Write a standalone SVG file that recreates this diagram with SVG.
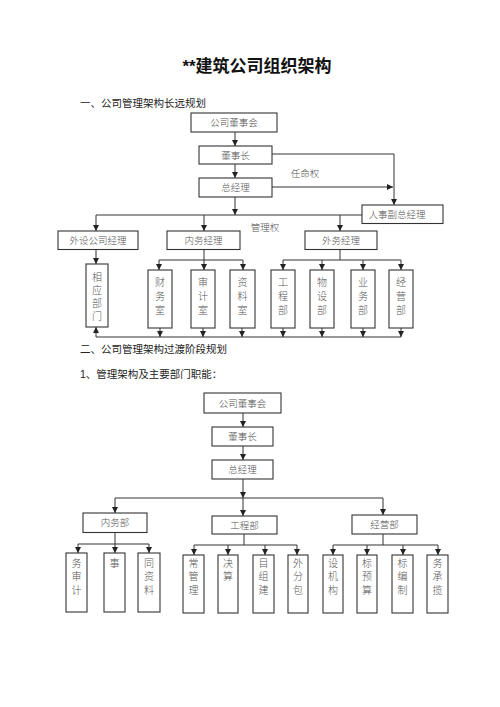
<svg xmlns="http://www.w3.org/2000/svg" width="500" height="707" viewBox="0 0 500 707">
<defs>
<style>
.bg{fill:#ffffff}
.box{fill:#ffffff;stroke:#333333;stroke-width:1.1}
.t{font-family:"Liberation Serif","Noto Sans CJK SC",serif;font-size:9.5px;font-weight:300;fill:#555555;text-anchor:middle}
.v{font-family:"Liberation Serif","Noto Sans CJK SC",serif;font-size:10px;font-weight:300;fill:#555555;text-anchor:middle}
.h{font-family:"Liberation Sans","Noto Sans CJK SC",sans-serif;font-size:10.5px;fill:#222222}
.title{font-family:"Liberation Sans","Noto Sans CJK SC",sans-serif;font-size:17px;font-weight:bold;fill:#111111;text-anchor:middle}
.c{fill:none;stroke:#333333;stroke-width:1}
.a{fill:none;stroke:#333333;stroke-width:1;marker-end:url(#arr)}
</style>
<marker id="arr" viewBox="0 0 6 6" refX="6" refY="3" markerWidth="6" markerHeight="6" markerUnits="userSpaceOnUse" orient="auto">
<path d="M0,0 L6,3 L0,6 Z" fill="#222222"/>
</marker>
</defs>
<rect class="bg" x="0" y="0" width="500" height="707"/>

<text class="title" x="257" y="72">**建筑公司组织架构</text>
<text class="h" x="80" y="107">一、公司管理架构长远规划</text>
<text class="h" x="80" y="353">二、公司管理架构过渡阶段规划</text>
<text class="h" x="80" y="378">1、管理架构及主要部门职能：</text>

<g id="connectors">
<!-- top section -->
<path class="a" d="M235,132 V146"/>
<path class="a" d="M272,154 H394 V205"/>
<path class="a" d="M235,164 V178"/>
<path class="a" d="M272,187 H393"/>
<path class="a" d="M235,197 V215"/>
<path class="c" d="M96,215 H362"/>
<path class="a" d="M96,215 V231"/>
<path class="a" d="M204,215 V231"/>
<path class="a" d="M340,215 V231"/>
<path class="a" d="M96,249 V264"/>
<path class="c" d="M204,249 V260 M159,260 H243"/>
<path class="a" d="M159,260 V270"/>
<path class="a" d="M204,260 V270"/>
<path class="a" d="M243,260 V270"/>
<path class="c" d="M340,249 V260 M283,260 H401"/>
<path class="a" d="M283,260 V270"/>
<path class="a" d="M322,260 V270"/>
<path class="a" d="M363,260 V270"/>
<path class="a" d="M401,260 V270"/>
<path class="a" d="M160,328 V337"/>
<path class="a" d="M203,328 V337"/>
<path class="a" d="M242,328 V337"/>
<path class="a" d="M283,328 V337"/>
<path class="a" d="M322,328 V337"/>
<path class="a" d="M363,328 V337"/>
<path class="a" d="M401,328 V337"/>
<path class="c" d="M96,337 H401"/>
<path class="a" d="M96,337 V327"/>
<!-- bottom section -->
<path class="a" d="M243,413 V427"/>
<path class="a" d="M243,446 V460"/>
<path class="a" d="M243,479 V498"/>
<path class="c" d="M115,498 H383"/>
<path class="a" d="M115,498 V513"/>
<path class="a" d="M243,498 V516"/>
<path class="a" d="M383,498 V515"/>
<path class="c" d="M115,532 V544 M78,544 H149"/>
<path class="a" d="M78,544 V553"/>
<path class="a" d="M115,544 V553"/>
<path class="a" d="M149,544 V553"/>
<path class="c" d="M244,534 V545 M194,545 H297"/>
<path class="a" d="M194,545 V555"/>
<path class="a" d="M228,545 V555"/>
<path class="a" d="M265,545 V555"/>
<path class="a" d="M297,545 V555"/>
<path class="c" d="M383,534 V545 M333,545 H438"/>
<path class="a" d="M333,545 V555"/>
<path class="a" d="M367,545 V555"/>
<path class="a" d="M403,545 V555"/>
<path class="a" d="M438,545 V555"/>
</g>

<text class="t" x="305" y="177">任命权</text>
<text class="t" x="265" y="231">管理权</text>

<!-- top nodes -->
<g id="n-board1"><rect class="box" x="191" y="113" width="86" height="19"/><text class="t" x="234" y="126">公司董事会</text></g>
<g id="n-chair1"><rect class="box" x="199" y="146" width="73" height="18"/><text class="t" x="235.5" y="158.5">董事长</text></g>
<g id="n-gm1"><rect class="box" x="199" y="178" width="73" height="19"/><text class="t" x="235.5" y="191">总经理</text></g>
<g id="n-hrvp"><rect class="box" x="362" y="205" width="81" height="18.5"/><text class="t" x="397" y="217.5">人事副总经理</text></g>
<g id="n-ext"><rect class="box" x="58" y="231" width="80" height="18.5"/><text class="t" x="98" y="243.5">外设公司经理</text></g>
<g id="n-inner"><rect class="box" x="167" y="231" width="73" height="18.5"/><text class="t" x="203.5" y="243.5">内务经理</text></g>
<g id="n-outer"><rect class="box" x="305" y="231" width="72" height="18.5"/><text class="t" x="341" y="243.5">外务经理</text></g>
<g id="n-corr"><rect class="box" x="86" y="264" width="22" height="63"/>
<text class="v" x="97" y="280.5">相</text><text class="v" x="97" y="293.5">应</text><text class="v" x="97" y="306.5">部</text><text class="v" x="97" y="319.5">门</text></g>
<g id="n-fin"><rect class="box" x="148" y="270" width="24" height="58"/>
<text class="v" x="160" y="285.5">财</text><text class="v" x="160" y="299.5">务</text><text class="v" x="160" y="313.5">室</text></g>
<g id="n-audit"><rect class="box" x="191" y="270" width="24" height="58"/>
<text class="v" x="203" y="285.5">审</text><text class="v" x="203" y="299.5">计</text><text class="v" x="203" y="313.5">室</text></g>
<g id="n-data"><rect class="box" x="230" y="270" width="25" height="58"/>
<text class="v" x="242.5" y="285.5">资</text><text class="v" x="242.5" y="299.5">料</text><text class="v" x="242.5" y="313.5">室</text></g>
<g id="n-eng1"><rect class="box" x="271" y="270" width="24" height="58"/>
<text class="v" x="283" y="285.5">工</text><text class="v" x="283" y="299.5">程</text><text class="v" x="283" y="313.5">部</text></g>
<g id="n-mat"><rect class="box" x="310" y="270" width="24" height="58"/>
<text class="v" x="322" y="285.5">物</text><text class="v" x="322" y="299.5">设</text><text class="v" x="322" y="313.5">部</text></g>
<g id="n-biz"><rect class="box" x="351" y="270" width="24" height="58"/>
<text class="v" x="363" y="285.5">业</text><text class="v" x="363" y="299.5">务</text><text class="v" x="363" y="313.5">部</text></g>
<g id="n-op1"><rect class="box" x="389" y="270" width="24" height="58"/>
<text class="v" x="401" y="285.5">经</text><text class="v" x="401" y="299.5">营</text><text class="v" x="401" y="313.5">部</text></g>

<!-- bottom nodes -->
<g id="n-board2"><rect class="box" x="204" y="393" width="77" height="20"/><text class="t" x="242.5" y="406.5">公司董事会</text></g>
<g id="n-chair2"><rect class="box" x="212" y="427" width="61" height="19"/><text class="t" x="242.5" y="440">董事长</text></g>
<g id="n-gm2"><rect class="box" x="212" y="460" width="61" height="19"/><text class="t" x="242.5" y="473">总经理</text></g>
<g id="n-nwb"><rect class="box" x="83" y="513" width="64" height="19.5"/><text class="t" x="115" y="526">内务部</text></g>
<g id="n-gcb"><rect class="box" x="212" y="516" width="65" height="18"/><text class="t" x="244.5" y="528.5">工程部</text></g>
<g id="n-jyb"><rect class="box" x="352" y="515" width="65" height="19"/><text class="t" x="384.5" y="528">经营部</text></g>

<g id="n-b1"><rect class="box" x="66" y="553" width="21" height="59"/>
<text class="v" x="76.5" y="566.5">务</text><text class="v" x="76.5" y="580">审</text><text class="v" x="76.5" y="593.5">计</text></g>
<g id="n-b2"><rect class="box" x="104" y="553" width="21" height="59"/>
<text class="v" x="114.5" y="566.5">事</text></g>
<g id="n-b3"><rect class="box" x="138" y="553" width="22" height="59"/>
<text class="v" x="149" y="566.5">同</text><text class="v" x="149" y="580">资</text><text class="v" x="149" y="593.5">料</text></g>
<g id="n-b4"><rect class="box" x="183" y="555" width="21" height="58"/>
<text class="v" x="193.5" y="566.5">常</text><text class="v" x="193.5" y="580">管</text><text class="v" x="193.5" y="593.5">理</text></g>
<g id="n-b5"><rect class="box" x="218" y="555" width="20" height="58"/>
<text class="v" x="228" y="566.5">决</text><text class="v" x="228" y="580">算</text></g>
<g id="n-b6"><rect class="box" x="253" y="555" width="21" height="58"/>
<text class="v" x="263.5" y="566.5">目</text><text class="v" x="263.5" y="580">组</text><text class="v" x="263.5" y="593.5">建</text></g>
<g id="n-b7"><rect class="box" x="288" y="555" width="20" height="58"/>
<text class="v" x="298" y="566.5">外</text><text class="v" x="298" y="580">分</text><text class="v" x="298" y="593.5">包</text></g>
<g id="n-b8"><rect class="box" x="323" y="555" width="20" height="58"/>
<text class="v" x="333" y="566.5">设</text><text class="v" x="333" y="580">机</text><text class="v" x="333" y="593.5">构</text></g>
<g id="n-b9"><rect class="box" x="357" y="555" width="20" height="58"/>
<text class="v" x="367" y="566.5">标</text><text class="v" x="367" y="580">预</text><text class="v" x="367" y="593.5">算</text></g>
<g id="n-b10"><rect class="box" x="392" y="555" width="21" height="58"/>
<text class="v" x="402.5" y="566.5">标</text><text class="v" x="402.5" y="580">编</text><text class="v" x="402.5" y="593.5">制</text></g>
<g id="n-b11"><rect class="box" x="427" y="555" width="21" height="58"/>
<text class="v" x="437.5" y="566.5">务</text><text class="v" x="437.5" y="580">承</text><text class="v" x="437.5" y="593.5">揽</text></g>
</svg>
